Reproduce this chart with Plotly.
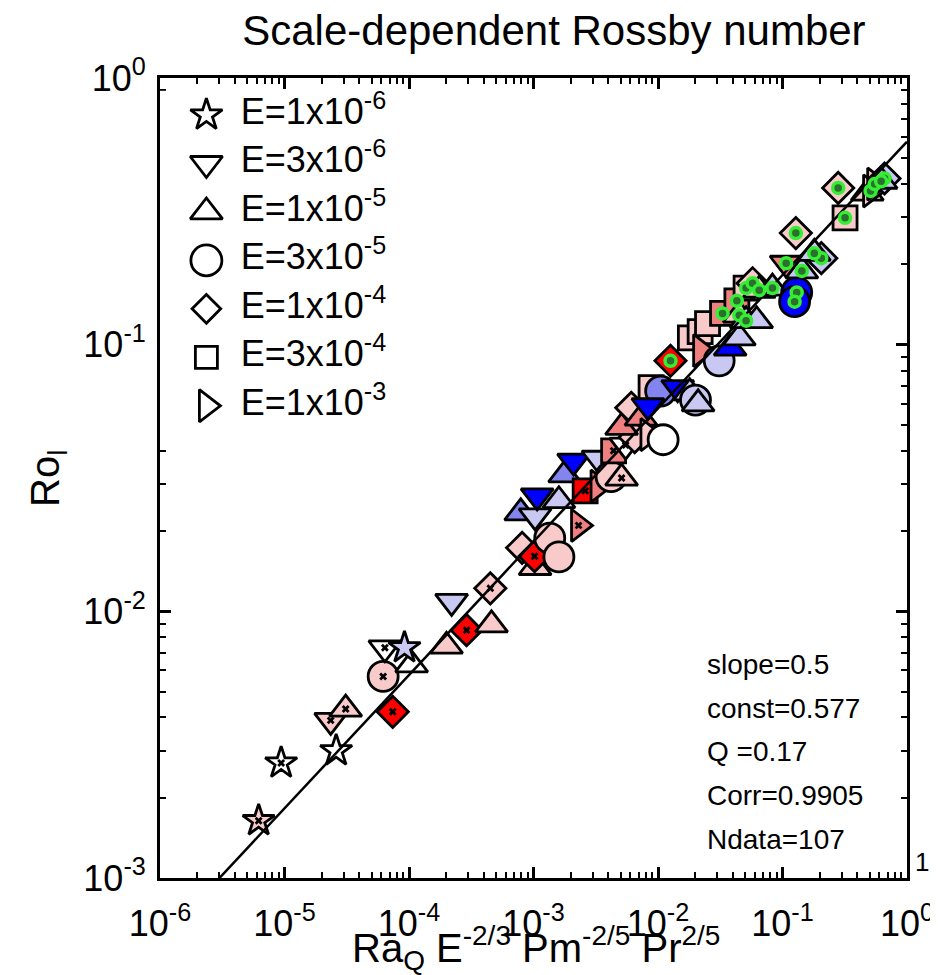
import plotly.graph_objects as go

# --- data ---------------------------------------------------------------
ra_x = [6.2e-6, 9.4e-6, 2.6e-5, 2.35e-5, 3.1e-5, 7.4e-5, 6.2e-5, 6.4e-5, 1.05e-4, 9.2e-5,
        2.2e-4, 2.0e-4, 2.9e-4, 4.6e-4, 4.5e-4, 8.1e-4, 1.03e-3, 1.02e-3, 1.35e-3, 1.6e-3,
        7.9e-4, 1.03e-3, 1.07e-3, 1.6e-3, 2.3e-3, 1.78e-3, 2.1e-3, 2.6e-3, 3.3e-3, 3.3e-3,
        4.2e-3, 5.1e-3, 4.4e-3, 5.5e-3, 6.5e-3, 5.1e-3, 6.1e-3, 7.3e-3, 8.3e-3, 1.1e-2,
        8.8e-3, 1.05e-2, 8.3e-3, 1.44e-2, 1.8e-2, 2.0e-2, 2.1e-2, 1.26e-2, 1.82e-2, 2.18e-2,
        2.2e-2, 3.1e-2, 3.8e-2, 4.5e-2, 2.5e-2, 3.3e-2, 4.3e-2, 4.5e-2, 5.1e-2, 6.2e-2,
        5.1e-2, 5.75e-2, 6.5e-2, 8.3e-2, 0.13, 0.125, 0.143, 0.107, 0.205, 0.18,
        0.128, 0.28, 0.318, 0.48, 0.51, 0.55, 0.66, 0.62]
ro_l = [1.64e-3, 2.7e-3, 3.0e-3, 3.9e-3, 4.3e-3, 4.2e-3, 5.7e-3, 7.3e-3, 6.3e-3, 7.3e-3,
        1.09e-2, 7.4e-3, 8.5e-3, 8.9e-3, 1.22e-2, 1.73e-2, 1.46e-2, 1.61e-2, 1.88e-2, 1.6e-2,
        2.34e-2, 2.28e-2, 2.71e-2, 2.6e-2, 2.1e-2, 3.25e-2, 3.66e-2, 2.83e-2, 3.75e-2, 2.95e-2,
        3.2e-2, 3.16e-2, 4.0e-2, 4.2e-2, 4.5e-2, 4.9e-2, 5.8e-2, 5.3e-2, 4.6e-2, 4.4e-2,
        6.9e-2, 6.7e-2, 5.9e-2, 6.9e-2, 6.6e-2, 6.2e-2, 6.0e-2, 8.7e-2, 0.106, 0.112,
        9.5e-2, 8.7e-2, 9.7e-2, 0.106, 0.12, 0.131, 0.146, 0.129, 0.123, 0.123,
        0.163, 0.17, 0.16, 0.163, 0.157, 0.145, 0.189, 0.202, 0.211, 0.22,
        0.262, 0.387, 0.299, 0.37, 0.377, 0.40, 0.42, 0.41]
# Ekman group index into ekman_labels
e_grp = [0, 0, 0, 1, 2, 4, 3, 1, 2, 0,
         1, 2, 4, 2, 4, 4, 2, 4, 3, 3,
         2, 1, 1, 2, 6, 2, 1, 5, 1, 6,
         3, 2, 5, 1, 4, 2, 4, 2, 6, 3,
         5, 3, 1, 1, 2, 3, 2, 4, 5, 5,
         6, 3, 2, 2, 5, 5, 5, 2, 2, 2,
         5, 4, 2, 2, 3, 3, 2, 1, 4, 2,
         4, 4, 5, 2, 6, 6, 4, 2]
# fill colour class
c_grp = ['pink', 'white', 'white', 'pink', 'pink', 'red', 'pink', 'white', 'white', 'lav',
         'lav', 'pink', 'red', 'pink', 'pink', 'pink', 'pink', 'red', 'pink', 'pink',
         'mblue', 'lav', 'blue', 'lav', 'salmon', 'mblue', 'blue', 'red', 'lav', 'salmon',
         'pink', 'pink', 'salmon', 'white', 'pink', 'salmon', 'pink', 'salmon', 'pink', 'white',
         'pink', 'mblue', 'blue', 'blue', 'lav', 'lav', 'lav', 'red', 'pink', 'pink',
         'salmon', 'lav', 'blue', 'lav', 'pink', 'salmon', 'salmon', 'pink', 'lav', 'lav',
         'pink', 'pink', 'pink', 'lav', 'blue', 'blue', 'lav', 'salmon', 'lav', 'lav',
         'pink', 'pink', 'pink', 'pink', 'pink', 'pink', 'lav', 'lav']
# inner mark: 0 none, 1 black cross, 2 green ring
inner = [1, 1, 0, 1, 1, 1, 1, 1, 0, 0,
         0, 0, 1, 0, 1, 0, 0, 1, 0, 0,
         0, 0, 0, 0, 1, 0, 0, 1, 0, 0,
         0, 1, 1, 1, 0, 0, 0, 0, 0, 0,
         0, 0, 0, 0, 0, 0, 0, 2, 0, 0,
         0, 0, 0, 0, 0, 2, 2, 2, 2, 0,
         2, 2, 2, 2, 2, 2, 2, 2, 2, 2,
         2, 2, 2, 0, 2, 2, 2, 2]

ekman_labels = ['E=1x10<sup>-6</sup>', 'E=3x10<sup>-6</sup>', 'E=1x10<sup>-5</sup>',
                'E=3x10<sup>-5</sup>', 'E=1x10<sup>-4</sup>', 'E=3x10<sup>-4</sup>',
                'E=1x10<sup>-3</sup>']
stats = ['slope=0.5', 'const=0.577', 'Q =0.17', 'Corr=0.9905', 'Ndata=107']
fit_slope = 0.5
fit_const = 0.577
fit_xrange = [3.0e-6, 1.0]

x_ticks = [1e-6, 1e-5, 1e-4, 1e-3, 1e-2, 1e-1, 1]
x_ticklabels = ['10<sup>-6</sup>', '10<sup>-5</sup>', '10<sup>-4</sup>', '10<sup>-3</sup>',
                '10<sup>-2</sup>', '10<sup>-1</sup>', '10<sup>0</sup>']
y_ticks = [1e-3, 1e-2, 1e-1, 1]
y_ticklabels = ['10<sup>-3</sup>', '10<sup>-2</sup>', '10<sup>-1</sup>', '10<sup>0</sup>']

# --- styles --------------------------------------------------------------
symbols = ['star', 'triangle-down', 'triangle-up', 'circle', 'diamond', 'square', 'triangle-right']
sizes = [24, 28, 28, 30, 24, 24, 28]
legend_sizes = [24, 28, 28, 31, 22, 22, 28]
fills = {'red': '#ff0000', 'salmon': '#f08080', 'pink': '#f8caca', 'white': '#ffffff',
         'lav': '#c8c8f2', 'mblue': '#8484ee', 'blue': '#0000ff'}
FONT = 'Liberation Sans, Arial, Helvetica, sans-serif'

fig = go.Figure()

fig.add_trace(go.Scatter(
    x=ra_x, y=ro_l, mode='markers', showlegend=False,
    marker=dict(symbol=[symbols[e] for e in e_grp],
                size=[sizes[e] for e in e_grp],
                color=[fills[c] for c in c_grp],
                opacity=1,
                line=dict(color='black', width=2.8))))

fit_y = [fit_const * v ** fit_slope for v in fit_xrange]
fig.add_trace(go.Scatter(x=fit_xrange, y=fit_y, mode='lines', showlegend=False,
                         line=dict(color='black', width=2.5)))

cx = [x for x, m in zip(ra_x, inner) if m == 1]
cy = [y for y, m in zip(ro_l, inner) if m == 1]
fig.add_trace(go.Scatter(x=cx, y=cy, mode='markers', showlegend=False,
                         marker=dict(symbol='x', size=7, color='black', opacity=1,
                                     line=dict(width=0))))
gx = [x for x, m in zip(ra_x, inner) if m == 2]
gy = [y for y, m in zip(ro_l, inner) if m == 2]
fig.add_trace(go.Scatter(x=gx, y=gy, mode='markers', showlegend=False,
                         marker=dict(symbol='circle', size=11, color='#2e6e2e', opacity=1,
                                     line=dict(color='#33ee33', width=3.5))))

# legend drawn in a small inset axis
rows = list(range(len(ekman_labels)))
fig.add_trace(go.Scatter(
    x=[1.38] * len(rows), y=rows, mode='markers', xaxis='x2', yaxis='y2', showlegend=False,
    marker=dict(symbol=symbols, size=legend_sizes, color='white', opacity=1,
                line=dict(color='black', width=2.8))))
fig.add_trace(go.Scatter(
    x=[2.4] * len(rows), y=rows, mode='text', xaxis='x2', yaxis='y2', showlegend=False,
    text=ekman_labels, textposition='middle right',
    textfont=dict(family=FONT, size=36, color='black')))

axis_style = dict(type='log', showgrid=False, zeroline=False, showline=True,
                  linecolor='black', linewidth=3, mirror='ticks', ticks='inside',
                  ticklen=11, tickwidth=2.5, tickcolor='black',
                  tickfont=dict(family=FONT, size=36, color='black'))

minor_x = [m * 10 ** d for d in range(-6, 0) for m in range(2, 10)]
minor_y = [m * 10 ** d for d in range(-3, 0) for m in range(2, 10)]

fig.update_layout(
    width=938, height=975,
    paper_bgcolor='white', plot_bgcolor='white',
    margin=dict(l=152, r=28, t=70, b=105),
    font=dict(family=FONT, color='black'),
    title=dict(text='Scale-dependent Rossby number', x=0.582, xanchor='center',
               y=0.977, yanchor='middle', font=dict(family=FONT, size=42)),
    xaxis=dict(axis_style, range=[-6, 0], tickvals=x_ticks, ticktext=x_ticklabels,
               ticklabelstandoff=12,
               minor=dict(tickvals=minor_x, ticks='inside', ticklen=6, tickwidth=2,
                          tickcolor='black')),
    yaxis=dict(axis_style, range=[-3, 0], tickvals=y_ticks, ticktext=y_ticklabels,
               ticklabelstandoff=4,
               minor=dict(tickvals=minor_y, ticks='inside', ticklen=6, tickwidth=2,
                          tickcolor='black')),
    xaxis2=dict(domain=[0, 0.45], range=[0, 10], anchor='y2', visible=False, fixedrange=True),
    yaxis2=dict(domain=[0.56, 0.984], range=[6.5, -0.5], anchor='x2', visible=False,
                fixedrange=True),
)

stat_y = [0.267, 0.2125, 0.158, 0.103, 0.048]
for txt, yy in zip(stats, stat_y):
    fig.add_annotation(text=txt, xref='paper', yref='paper', x=0.73, y=yy,
                       xanchor='left', yanchor='middle', showarrow=False,
                       font=dict(family=FONT, size=28))

fig.add_annotation(text='1', xref='paper', yref='paper', x=1.008, y=0.02,
                   xanchor='left', yanchor='middle', showarrow=False,
                   font=dict(family=FONT, size=26))

fig.add_annotation(text='Ra<sub>Q</sub> E<sup>-2/3</sup> Pm<sup>-2/5</sup> Pr<sup>2/5</sup>',
                   xref='paper', yref='paper', x=0.503, y=-0.1255,
                   xanchor='center', yanchor='bottom', showarrow=False,
                   font=dict(family=FONT, size=40))
fig.add_annotation(text='Ro<sub>l</sub>', xref='paper', yref='paper', x=-0.15, y=0.5,
                   xanchor='center', yanchor='middle', textangle=-90, showarrow=False,
                   font=dict(family=FONT, size=40))

fig.write_html('out.html')
